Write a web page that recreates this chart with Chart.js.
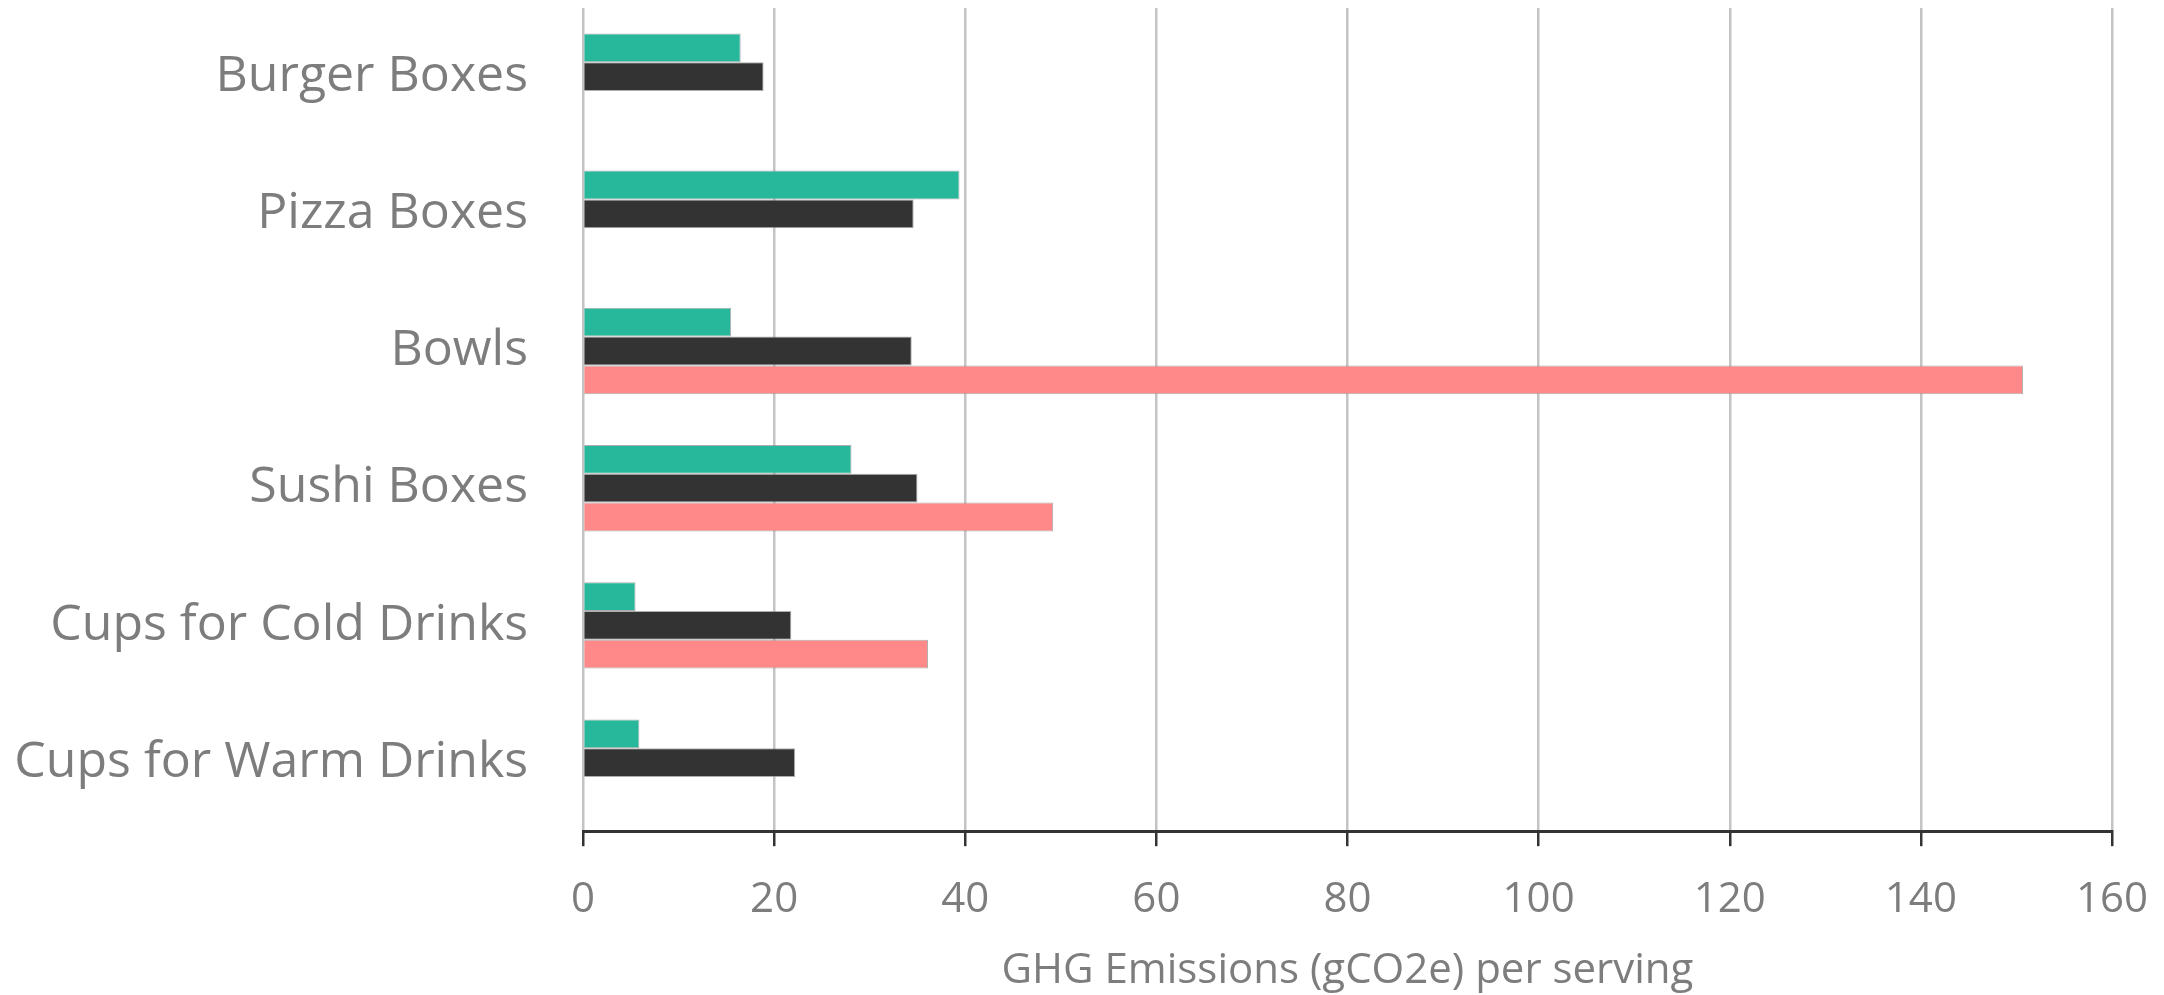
<!DOCTYPE html>
<html>
<head>
<meta charset="utf-8">
<script src="https://cdn.jsdelivr.net/npm/chart.js@4"></script>
<style>
  html, body { margin: 0; padding: 0; background: #fff; }
  #wrap { width: 2164px; height: 995px; }
</style>
</head>
<body>
<div id="wrap"><canvas id="chart"></canvas></div>
<script>
const categories = ['Burger Boxes', 'Pizza Boxes', 'Bowls', 'Sushi Boxes', 'Cups for Cold Drinks', 'Cups for Warm Drinks'];
const seriesA = [16.5, 39.4, 15.5, 28.1, 5.5, 5.9];
const seriesB = [18.9, 34.6, 34.4, 35.0, 21.8, 22.2];
const seriesC = [null, null, 150.7, 49.2, 36.1, null];
const xTicks = [0, 20, 40, 60, 80, 100, 120, 140, 160];
const xTitle = 'GHG Emissions (gCO2e) per serving';

const textGray = '#7d7d7d';
const fontFamily = '"Open Sans", sans-serif';

const ctx = document.getElementById('chart').getContext('2d');
new Chart(ctx, {
    type: 'bar',
    data: {
        labels: categories,
        datasets: [{
            label: 'Series A',
            data: seriesA,
            backgroundColor: '#27b89b',
            borderColor: 'rgba(140,140,140,0.7)',
            borderWidth: 1
        }, {
            label: 'Series B',
            data: seriesB,
            backgroundColor: '#333333',
            borderColor: 'rgba(140,140,140,0.7)',
            borderWidth: 1
        }, {
            label: 'Series C',
            data: seriesC,
            backgroundColor: '#ff8888',
            borderColor: 'rgba(140,140,140,0.7)',
            borderWidth: 1
        }]
    },
    options: {
        indexAxis: 'y',
        responsive: true,
        maintainAspectRatio: false,
        animation: false,
        layout: {
            padding: { top: 8, right: 52, left: 0, bottom: 0 }
        },
        datasets: {
            bar: {
                categoryPercentage: 0.63,
                barPercentage: 1.0
            }
        },
        plugins: {
            legend: { display: false },
            tooltip: { enabled: false }
        },
        scales: {
            x: {
                min: 0,
                max: 160,
                afterBuildTicks: function (scale) {
                    scale.ticks = xTicks.map(v => ({ value: v }));
                },
                afterFit: function (scale) {
                    scale.paddingLeft = 0;
                    scale.paddingRight = 0;
                },
                grid: {
                    color: '#c4c4c4',
                    lineWidth: 2.5,
                    drawTicks: true,
                    tickLength: 15,
                    tickColor: '#333333',
                    tickWidth: 2.5
                },
                border: {
                    display: true,
                    color: '#333333',
                    width: 3
                },
                ticks: {
                    color: textGray,
                    padding: 29,
                    font: { family: fontFamily, size: 42 }
                },
                title: {
                    display: true,
                    text: xTitle,
                    color: textGray,
                    padding: { top: -9, bottom: -1 },
                    font: { family: fontFamily, size: 42 }
                }
            },
            y: {
                grid: { display: false, drawTicks: true, tickLength: 55 },
                border: { display: false },
                afterFit: function (scale) {
                    scale.width = 583;
                    scale.paddingTop = 0;
                    scale.paddingBottom = 0;
                },
                ticks: {
                    color: textGray,
                    padding: 0,
                    font: { family: fontFamily, size: 50 }
                }
            }
        }
    }
});
</script>
</body>
</html>
